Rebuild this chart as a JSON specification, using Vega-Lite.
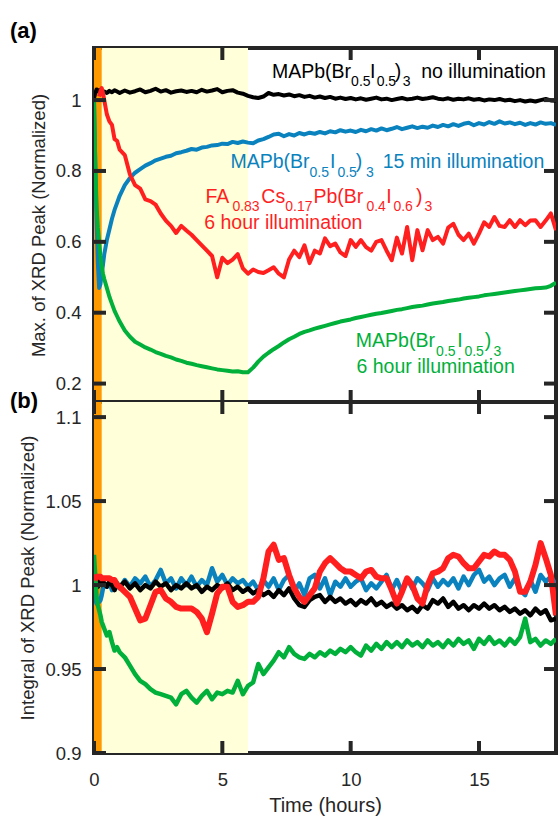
{
  "$schema": "https://vega.github.io/schema/vega-lite/v6.json",
  "autosize": {"type": "none"},
  "padding": {"left": 94, "top": 48, "right": 464, "bottom": 770},
  "bounds": "flush",
  "spacing": 0,
  "background": "white",
  "config": {
    "view": {"stroke": "#262626", "strokeWidth": 4},
    "font": "Liberation Sans",
    "tick": {"opacity": 1},
    "axis": {
      "domain": false,
      "ticks": true, "tickSize": 0, "tickOpacity": 0, "offset": 0,
      "grid": false,
      "labelFont": "Liberation Sans", "labelFontSize": 18.5, "labelColor": "#262626",
      "titleFont": "Liberation Sans", "titleFontSize": 18.5, "titleFontWeight": "normal", "titleColor": "#262626",
      "labelFlush": false
    }
  },
  "datasets": {
    "xticks": [{"t": 0}, {"t": 5}, {"t": 10}, {"t": 15}],
    "yticksA": [{"v": 0.2}, {"v": 0.4}, {"v": 0.6}, {"v": 0.8}, {"v": 1}],
    "yticksB": [{"v": 0.9}, {"v": 0.95}, {"v": 1}, {"v": 1.05}, {"v": 1.1}],
    "series": [
      {"t":0,"ak":1.005,"ab":1.0,"ar":null,"ag":1.0,"bk":0.998,"bb":1.0,"br":1.003,"bg":1.018},
      {"t":0.05,"ak":1.02,"ab":0.82,"ar":null,"ag":0.82,"bk":1.0,"bb":0.992,"br":1.004,"bg":1.005},
      {"t":0.1,"ak":1.03,"ab":0.66,"ar":null,"ag":0.70,"bk":1.002,"bb":0.989,"br":1.005,"bg":0.993},
      {"t":0.15,"ak":1.025,"ab":0.54,"ar":null,"ag":0.64,"bk":0.999,"bb":0.99,"br":1.005,"bg":0.988},
      {"t":0.2,"ak":1.028,"ab":0.47,"ar":1.01,"ag":0.60,"bk":1.001,"bb":0.99,"br":1.005,"bg":0.985},
      {"t":0.25,"ak":1.02,"ab":0.48,"ar":1.025,"ag":0.56,"bk":1.003,"bb":0.991,"br":1.005,"bg":0.982},
      {"t":0.3,"ak":1.022,"ab":0.51,"ar":1.034,"ag":0.53,"bk":1.0,"bb":0.994,"br":1.004,"bg":0.978},
      {"t":0.35,"ak":1.018,"ab":0.535,"ar":1.02,"ag":0.51,"bk":1.002,"bb":0.998,"br":1.004,"bg":0.976},
      {"t":0.4,"ak":1.024,"ab":0.565,"ar":1.0,"ag":0.495,"bk":1.001,"bb":1.001,"br":1.004,"bg":0.974},
      {"t":0.5,"ak":1.02,"ab":0.605,"ar":0.96,"ag":0.47,"bk":0.999,"bb":0.999,"br":1.004,"bg":0.970},
      {"t":0.6,"ak":1.026,"ab":0.635,"ar":0.94,"ag":0.445,"bk":1.002,"bb":1.002,"br":1.004,"bg":0.972},
      {"t":0.7,"ak":1.022,"ab":0.665,"ar":0.93,"ag":0.425,"bk":1.0,"bb":0.997,"br":1.003,"bg":0.966},
      {"t":0.8,"ak":1.028,"ab":0.69,"ar":0.89,"ag":0.405,"bk":0.997,"bb":1.003,"br":1.003,"bg":0.961},
      {"t":0.9,"ak":1.024,"ab":0.71,"ar":0.885,"ag":0.39,"bk":1.001,"bb":1.0,"br":1.0,"bg":0.963},
      {"t":1.0,"ak":1.02,"ab":0.73,"ar":0.86,"ag":0.375,"bk":0.999,"bb":0.998,"br":0.999,"bg":0.96},
      {"t":1.2,"ak":1.027,"ab":0.76,"ar":0.845,"ag":0.35,"bk":1.002,"bb":1.003,"br":0.996,"bg":0.957},
      {"t":1.4,"ak":1.021,"ab":0.78,"ar":0.79,"ag":0.332,"bk":0.998,"bb":0.999,"br":0.993,"bg":0.952},
      {"t":1.6,"ak":1.025,"ab":0.795,"ar":0.76,"ag":0.318,"bk":1.001,"bb":1.004,"br":0.986,"bg":0.947},
      {"t":1.8,"ak":1.03,"ab":0.805,"ar":0.75,"ag":0.31,"bk":0.997,"bb":1.001,"br":0.979,"bg":0.943},
      {"t":2.0,"ak":1.022,"ab":0.815,"ar":0.72,"ag":0.302,"bk":1.0,"bb":1.005,"br":0.98,"bg":0.941},
      {"t":2.2,"ak":1.026,"ab":0.822,"ar":0.715,"ag":0.296,"bk":0.998,"bb":0.999,"br":0.988,"bg":0.938},
      {"t":2.4,"ak":1.032,"ab":0.83,"ar":0.705,"ag":0.289,"bk":1.002,"bb":1.003,"br":0.996,"bg":0.936},
      {"t":2.6,"ak":1.024,"ab":0.835,"ar":0.68,"ag":0.284,"bk":0.999,"bb":1.009,"br":0.997,"bg":0.935},
      {"t":2.8,"ak":1.028,"ab":0.84,"ar":0.66,"ag":0.278,"bk":1.001,"bb":1.001,"br":0.992,"bg":0.934},
      {"t":3.0,"ak":1.021,"ab":0.843,"ar":0.645,"ag":0.274,"bk":0.997,"bb":1.004,"br":0.99,"bg":0.933},
      {"t":3.2,"ak":1.025,"ab":0.85,"ar":0.625,"ag":0.268,"bk":1.0,"bb":0.998,"br":0.987,"bg":0.929},
      {"t":3.4,"ak":1.027,"ab":0.853,"ar":0.645,"ag":0.264,"bk":0.998,"bb":1.004,"br":0.986,"bg":0.935},
      {"t":3.6,"ak":1.023,"ab":0.857,"ar":0.632,"ag":0.259,"bk":1.001,"bb":1.0,"br":0.986,"bg":0.937},
      {"t":3.8,"ak":1.026,"ab":0.862,"ar":0.62,"ag":0.256,"bk":0.998,"bb":1.005,"br":0.986,"bg":0.933},
      {"t":4.0,"ak":1.022,"ab":0.86,"ar":0.605,"ag":0.252,"bk":1.0,"bb":0.999,"br":0.984,"bg":0.93},
      {"t":4.2,"ak":1.029,"ab":0.866,"ar":0.59,"ag":0.249,"bk":0.996,"bb":1.003,"br":0.98,"bg":0.934},
      {"t":4.4,"ak":1.024,"ab":0.868,"ar":0.575,"ag":0.246,"bk":0.999,"bb":1.0,"br":0.972,"bg":0.937},
      {"t":4.6,"ak":1.027,"ab":0.872,"ar":0.56,"ag":0.243,"bk":0.997,"bb":1.01,"br":0.983,"bg":0.932},
      {"t":4.8,"ak":1.031,"ab":0.873,"ar":0.50,"ag":0.24,"bk":1.0,"bb":1.002,"br":0.995,"bg":0.936},
      {"t":5.0,"ak":1.022,"ab":0.877,"ar":0.555,"ag":0.238,"bk":0.998,"bb":1.006,"br":0.999,"bg":0.935},
      {"t":5.2,"ak":1.026,"ab":0.876,"ar":0.54,"ag":0.236,"bk":1.001,"bb":1.0,"br":0.999,"bg":0.937},
      {"t":5.4,"ak":1.028,"ab":0.882,"ar":0.55,"ag":0.234,"bk":0.997,"bb":1.004,"br":0.99,"bg":0.936},
      {"t":5.6,"ak":1.021,"ab":0.879,"ar":0.565,"ag":0.235,"bk":0.999,"bb":1.001,"br":0.987,"bg":0.943},
      {"t":5.8,"ak":1.018,"ab":0.883,"ar":0.525,"ag":0.232,"bk":0.996,"bb":1.003,"br":0.988,"bg":0.935},
      {"t":6.0,"ak":1.012,"ab":0.88,"ar":0.51,"ag":0.232,"bk":0.998,"bb":0.999,"br":0.99,"bg":0.94},
      {"t":6.2,"ak":1.008,"ab":0.878,"ar":0.522,"ag":0.245,"bk":0.995,"bb":1.002,"br":0.99,"bg":0.942},
      {"t":6.4,"ak":1.006,"ab":0.886,"ar":0.515,"ag":0.262,"bk":0.997,"bb":0.997,"br":0.993,"bg":0.953},
      {"t":6.6,"ak":1.01,"ab":0.89,"ar":0.512,"ag":0.276,"bk":0.994,"bb":1.003,"br":1.004,"bg":0.947},
      {"t":6.8,"ak":1.02,"ab":0.896,"ar":0.52,"ag":0.287,"bk":0.996,"bb":0.999,"br":1.02,"bg":0.951},
      {"t":7.0,"ak":1.015,"ab":0.903,"ar":0.528,"ag":0.297,"bk":0.993,"bb":1.004,"br":1.024,"bg":0.955},
      {"t":7.2,"ak":1.017,"ab":0.905,"ar":0.51,"ag":0.306,"bk":0.997,"bb":0.997,"br":1.015,"bg":0.96},
      {"t":7.4,"ak":1.013,"ab":0.898,"ar":0.50,"ag":0.316,"bk":0.994,"bb":1.003,"br":1.016,"bg":0.957},
      {"t":7.6,"ak":1.016,"ab":0.904,"ar":0.55,"ag":0.325,"bk":0.998,"bb":1.006,"br":1.006,"bg":0.963},
      {"t":7.8,"ak":1.011,"ab":0.9,"ar":0.575,"ag":0.332,"bk":0.992,"bb":0.996,"br":0.998,"bg":0.959},
      {"t":8.0,"ak":1.014,"ab":0.907,"ar":0.557,"ag":0.34,"bk":0.988,"bb":1.001,"br":0.993,"bg":0.957},
      {"t":8.2,"ak":1.009,"ab":0.903,"ar":0.59,"ag":0.346,"bk":0.987,"bb":0.994,"br":0.99,"bg":0.956},
      {"t":8.4,"ak":1.012,"ab":0.908,"ar":0.54,"ag":0.35,"bk":0.991,"bb":1.004,"br":0.994,"bg":0.959},
      {"t":8.6,"ak":1.007,"ab":0.905,"ar":0.575,"ag":0.355,"bk":0.993,"bb":1.006,"br":0.998,"bg":0.957},
      {"t":8.8,"ak":1.01,"ab":0.91,"ar":0.567,"ag":0.359,"bk":0.994,"bb":0.998,"br":1.008,"bg":0.96},
      {"t":9.0,"ak":1.006,"ab":0.906,"ar":0.61,"ag":0.363,"bk":0.99,"bb":1.004,"br":1.013,"bg":0.958},
      {"t":9.2,"ak":1.009,"ab":0.912,"ar":0.588,"ag":0.367,"bk":0.993,"bb":0.994,"br":1.016,"bg":0.961},
      {"t":9.4,"ak":1.004,"ab":0.909,"ar":0.595,"ag":0.371,"bk":0.99,"bb":1.002,"br":1.013,"bg":0.959},
      {"t":9.6,"ak":1.007,"ab":0.915,"ar":0.57,"ag":0.375,"bk":0.992,"bb":0.999,"br":1.01,"bg":0.962},
      {"t":9.8,"ak":1.003,"ab":0.911,"ar":0.56,"ag":0.378,"bk":0.989,"bb":1.004,"br":1.008,"bg":0.96},
      {"t":10.0,"ak":1.006,"ab":0.914,"ar":0.605,"ag":0.381,"bk":0.991,"bb":0.999,"br":1.008,"bg":0.963},
      {"t":10.2,"ak":1.002,"ab":0.91,"ar":0.586,"ag":0.385,"bk":0.988,"bb":1.002,"br":1.006,"bg":0.96},
      {"t":10.4,"ak":1.005,"ab":0.916,"ar":0.605,"ag":0.388,"bk":0.991,"bb":1.004,"br":1.004,"bg":0.958},
      {"t":10.6,"ak":1.001,"ab":0.912,"ar":0.585,"ag":0.391,"bk":0.989,"bb":0.997,"br":1.008,"bg":0.964},
      {"t":10.8,"ak":1.004,"ab":0.918,"ar":0.575,"ag":0.394,"bk":0.992,"bb":1.001,"br":1.009,"bg":0.961},
      {"t":11.0,"ak":1.007,"ab":0.914,"ar":0.6,"ag":0.397,"bk":0.988,"bb":0.998,"br":1.005,"bg":0.965},
      {"t":11.2,"ak":1.002,"ab":0.92,"ar":0.605,"ag":0.399,"bk":0.99,"bb":1.002,"br":1.004,"bg":0.962},
      {"t":11.4,"ak":1.004,"ab":0.915,"ar":0.575,"ag":0.402,"bk":0.987,"bb":1.006,"br":1.004,"bg":0.966},
      {"t":11.6,"ak":1.0,"ab":0.919,"ar":0.548,"ag":0.405,"bk":0.989,"bb":0.997,"br":0.997,"bg":0.963},
      {"t":11.8,"ak":1.003,"ab":0.924,"ar":0.612,"ag":0.408,"bk":0.986,"bb":1.003,"br":0.989,"bg":0.966},
      {"t":12.0,"ak":1.006,"ab":0.918,"ar":0.567,"ag":0.41,"bk":0.988,"bb":0.996,"br":0.996,"bg":0.963},
      {"t":12.2,"ak":1.002,"ab":0.922,"ar":0.642,"ag":0.413,"bk":0.985,"bb":1.004,"br":1.004,"bg":0.967},
      {"t":12.4,"ak":1.004,"ab":0.926,"ar":0.548,"ag":0.416,"bk":0.987,"bb":0.998,"br":1.0,"bg":0.964},
      {"t":12.6,"ak":1.007,"ab":0.921,"ar":0.633,"ag":0.418,"bk":0.984,"bb":1.004,"br":0.992,"bg":0.966},
      {"t":12.8,"ak":1.003,"ab":0.925,"ar":0.576,"ag":0.42,"bk":0.988,"bb":1.001,"br":0.989,"bg":0.963},
      {"t":13.0,"ak":1.005,"ab":0.922,"ar":0.633,"ag":0.423,"bk":0.986,"bb":0.997,"br":1.0,"bg":0.967},
      {"t":13.2,"ak":1.008,"ab":0.928,"ar":0.605,"ag":0.426,"bk":0.991,"bb":1.004,"br":1.007,"bg":0.964},
      {"t":13.4,"ak":1.004,"ab":0.924,"ar":0.614,"ag":0.428,"bk":0.989,"bb":0.999,"br":1.008,"bg":0.966},
      {"t":13.6,"ak":1.002,"ab":0.93,"ar":0.595,"ag":0.43,"bk":0.992,"bb":1.003,"br":1.01,"bg":0.963},
      {"t":13.8,"ak":1.005,"ab":0.926,"ar":0.64,"ag":0.433,"bk":0.987,"bb":1.0,"br":1.016,"bg":0.967},
      {"t":14.0,"ak":1.001,"ab":0.932,"ar":0.651,"ag":0.435,"bk":0.99,"bb":1.004,"br":1.018,"bg":0.964},
      {"t":14.2,"ak":1.004,"ab":0.927,"ar":0.62,"ag":0.437,"bk":0.986,"bb":0.998,"br":1.017,"bg":0.968},
      {"t":14.4,"ak":1.002,"ab":0.933,"ar":0.605,"ag":0.44,"bk":0.988,"bb":1.005,"br":1.013,"bg":0.965},
      {"t":14.6,"ak":1.005,"ab":0.936,"ar":0.623,"ag":0.442,"bk":0.985,"bb":1.0,"br":1.01,"bg":0.967},
      {"t":14.8,"ak":1.001,"ab":0.929,"ar":0.595,"ag":0.444,"bk":0.988,"bb":1.006,"br":1.01,"bg":0.962},
      {"t":15.0,"ak":1.003,"ab":0.935,"ar":0.623,"ag":0.446,"bk":0.986,"bb":1.009,"br":1.014,"bg":0.968},
      {"t":15.2,"ak":0.999,"ab":0.931,"ar":0.655,"ag":0.449,"bk":0.989,"bb":1.002,"br":1.018,"bg":0.965},
      {"t":15.4,"ak":1.002,"ab":0.938,"ar":0.642,"ag":0.451,"bk":0.986,"bb":1.005,"br":1.017,"bg":0.969},
      {"t":15.6,"ak":1.0,"ab":0.933,"ar":0.67,"ag":0.453,"bk":0.988,"bb":1.0,"br":1.02,"bg":0.965},
      {"t":15.8,"ak":1.003,"ab":0.94,"ar":0.645,"ag":0.455,"bk":0.985,"bb":1.004,"br":1.018,"bg":0.967},
      {"t":16.0,"ak":0.999,"ab":0.934,"ar":0.642,"ag":0.457,"bk":0.987,"bb":1.006,"br":1.018,"bg":0.964},
      {"t":16.2,"ak":1.001,"ab":0.937,"ar":0.661,"ag":0.459,"bk":0.984,"bb":0.999,"br":1.015,"bg":0.968},
      {"t":16.4,"ak":0.997,"ab":0.932,"ar":0.642,"ag":0.461,"bk":0.986,"bb":1.004,"br":1.008,"bg":0.965},
      {"t":16.6,"ak":1.0,"ab":0.936,"ar":0.661,"ag":0.463,"bk":0.983,"bb":0.997,"br":0.996,"bg":0.969},
      {"t":16.8,"ak":0.996,"ab":0.93,"ar":0.647,"ag":0.465,"bk":0.985,"bb":0.994,"br":0.996,"bg":0.98},
      {"t":17.0,"ak":0.999,"ab":0.935,"ar":0.66,"ag":0.467,"bk":0.982,"bb":1.003,"br":1.002,"bg":0.966},
      {"t":17.2,"ak":0.996,"ab":0.931,"ar":0.661,"ag":0.469,"bk":0.986,"bb":0.996,"br":1.012,"bg":0.968},
      {"t":17.4,"ak":1.0,"ab":0.937,"ar":0.642,"ag":0.47,"bk":0.983,"bb":1.006,"br":1.025,"bg":0.964},
      {"t":17.6,"ak":1.003,"ab":0.933,"ar":0.66,"ag":0.471,"bk":0.985,"bb":1.002,"br":1.016,"bg":0.967},
      {"t":17.8,"ak":0.999,"ab":0.935,"ar":0.68,"ag":0.476,"bk":0.979,"bb":1.005,"br":1.006,"bg":0.965},
      {"t":18.0,"ak":0.998,"ab":0.93,"ar":0.633,"ag":0.485,"bk":0.98,"bb":1.0,"br":0.982,"bg":0.968}
    ],
    "labels": [
      {"curve":"MAPb(Br0.5I0.5)3, no illumination","part":"main","t":6.935,"v":1.063,"text":"MAPb(Br"},
      {"curve":"MAPb(Br0.5I0.5)3, no illumination","part":"sub","t":10.017,"v":1.063,"text":"0.5"},
      {"curve":"MAPb(Br0.5I0.5)3, no illumination","part":"main","t":10.749,"v":1.063,"text":"I"},
      {"curve":"MAPb(Br0.5I0.5)3, no illumination","part":"sub","t":11.014,"v":1.063,"text":"0.5"},
      {"curve":"MAPb(Br0.5I0.5)3, no illumination","part":"main","t":11.72,"v":1.063,"text":")"},
      {"curve":"MAPb(Br0.5I0.5)3, no illumination","part":"sub","t":12.027,"v":1.063,"text":"3"},
      {"curve":"MAPb(Br0.5I0.5)3, no illumination","part":"main","t":12.75,"v":1.063,"text":"no illumination"},
      {"curve":"MAPb(Br0.5I0.5)3, 15 min illumination","part":"main","t":5.314,"v":0.807,"text":"MAPb(Br"},
      {"curve":"MAPb(Br0.5I0.5)3, 15 min illumination","part":"sub","t":8.396,"v":0.807,"text":"0.5"},
      {"curve":"MAPb(Br0.5I0.5)3, 15 min illumination","part":"main","t":9.191,"v":0.807,"text":"I"},
      {"curve":"MAPb(Br0.5I0.5)3, 15 min illumination","part":"sub","t":9.483,"v":0.807,"text":"0.5"},
      {"curve":"MAPb(Br0.5I0.5)3, 15 min illumination","part":"main","t":10.2,"v":0.807,"text":")"},
      {"curve":"MAPb(Br0.5I0.5)3, 15 min illumination","part":"sub","t":10.601,"v":0.807,"text":"3"},
      {"curve":"MAPb(Br0.5I0.5)3, 15 min illumination","part":"main","t":11.25,"v":0.807,"text":"15 min illumination"},
      {"curve":"FA0.83Cs0.17Pb(Br0.4I0.6)3, 6 hour illumination","part":"main","t":4.344,"v":0.7099,"text":"FA"},
      {"curve":"FA0.83Cs0.17Pb(Br0.4I0.6)3, 6 hour illumination","part":"sub","t":5.392,"v":0.7099,"text":"0.83"},
      {"curve":"FA0.83Cs0.17Pb(Br0.4I0.6)3, 6 hour illumination","part":"main","t":6.52,"v":0.7099,"text":"Cs"},
      {"curve":"FA0.83Cs0.17Pb(Br0.4I0.6)3, 6 hour illumination","part":"sub","t":7.45,"v":0.7099,"text":"0.17"},
      {"curve":"FA0.83Cs0.17Pb(Br0.4I0.6)3, 6 hour illumination","part":"main","t":8.552,"v":0.7099,"text":"Pb(Br"},
      {"curve":"FA0.83Cs0.17Pb(Br0.4I0.6)3, 6 hour illumination","part":"sub","t":10.613,"v":0.7099,"text":"0.4"},
      {"curve":"FA0.83Cs0.17Pb(Br0.4I0.6)3, 6 hour illumination","part":"main","t":11.384,"v":0.7099,"text":"I"},
      {"curve":"FA0.83Cs0.17Pb(Br0.4I0.6)3, 6 hour illumination","part":"sub","t":11.665,"v":0.7099,"text":"0.6"},
      {"curve":"FA0.83Cs0.17Pb(Br0.4I0.6)3, 6 hour illumination","part":"main","t":12.545,"v":0.7099,"text":")"},
      {"curve":"FA0.83Cs0.17Pb(Br0.4I0.6)3, 6 hour illumination","part":"sub","t":12.873,"v":0.7099,"text":"3"},
      {"curve":"FA0.83Cs0.17Pb(Br0.4I0.6)3, 6 hour illumination","part":"main","t":4.293,"v":0.6376,"text":"6 hour illumination"},
      {"curve":"MAPb(Br0.5I0.5)3, 6 hour illumination","part":"main","t":10.2,"v":0.3031,"text":"MAPb(Br"},
      {"curve":"MAPb(Br0.5I0.5)3, 6 hour illumination","part":"sub","t":13.329,"v":0.3031,"text":"0.5"},
      {"curve":"MAPb(Br0.5I0.5)3, 6 hour illumination","part":"main","t":14.151,"v":0.3031,"text":"I"},
      {"curve":"MAPb(Br0.5I0.5)3, 6 hour illumination","part":"sub","t":14.431,"v":0.3031,"text":"0.5"},
      {"curve":"MAPb(Br0.5I0.5)3, 6 hour illumination","part":"main","t":15.226,"v":0.3031,"text":")"},
      {"curve":"MAPb(Br0.5I0.5)3, 6 hour illumination","part":"sub","t":15.561,"v":0.3031,"text":"3"},
      {"curve":"MAPb(Br0.5I0.5)3, 6 hour illumination","part":"main","t":10.227,"v":0.2297,"text":"6 hour illumination"}
    ]
  },
  "vconcat": [
    {
      "width": 462,
      "height": 354,
      "title": {"text": "(a)", "anchor": "start", "frame": "group", "dx": -84, "offset": -12, "baseline": "alphabetic", "fontSize": 22, "fontWeight": "bold", "font": "Liberation Sans", "color": "#000000"},
      "layer": [
        {
          "data": {"values": [{"start": 0.3, "end": 6}]},
          "mark": {"type": "rect", "color": "#FFFFD9"},
          "encoding": {"x": {"field": "start", "type": "quantitative", "axis": null}, "x2": {"field": "end"}}
        },
        {
          "data": {"values": [{"start": 0, "end": 0.3}]},
          "mark": {"type": "rect", "color": "#FF9900"},
          "encoding": {"x": {"field": "start", "type": "quantitative", "axis": null}, "x2": {"field": "end"}}
        },
        {
          "data": {"name": "series"},
          "mark": {"type": "line", "color": "#000000", "strokeWidth": 4, "strokeJoin": "round", "clip": true},
          "encoding": {
            "x": {"field": "t", "type": "quantitative", "scale": {"domain": [0, 18], "nice": false, "zero": false},
                  "axis": {"orient": "bottom", "values": [0, 5, 10, 15], "labels": false, "title": null}},
            "y": {"field": "ak", "type": "quantitative", "scale": {"domain": [0.148, 1.147], "nice": false, "zero": false},
                  "axis": {"orient": "left", "values": [0.2, 0.4, 0.6, 0.8, 1], "format": "~g", "labelPadding": 13, "title": "Max. of XRD Peak (Normalized)", "titlePadding": 7}}
          }
        },
        {
          "data": {"name": "series"},
          "mark": {"type": "line", "color": "#0A82BE", "strokeWidth": 4, "strokeJoin": "round", "clip": true},
          "encoding": {
            "x": {"field": "t", "type": "quantitative", "axis": {"orient": "top", "values": [0, 5, 10, 15], "labels": false, "title": null}},
            "y": {"field": "ab", "type": "quantitative", "axis": {"orient": "right", "values": [0.2, 0.4, 0.6, 0.8, 1], "labels": false, "title": null}}
          }
        },
        {
          "data": {"name": "series"},
          "mark": {"type": "line", "color": "#00B03A", "strokeWidth": 4, "strokeJoin": "round", "clip": true},
          "encoding": {
            "x": {"field": "t", "type": "quantitative", "axis": null},
            "y": {"field": "ag", "type": "quantitative", "axis": null}
          }
        },
        {
          "data": {"name": "series"},
          "mark": {"type": "line", "color": "#FF1F1F", "strokeWidth": 4, "strokeJoin": "round", "clip": true},
          "encoding": {
            "x": {"field": "t", "type": "quantitative", "axis": null},
            "y": {"field": "ar", "type": "quantitative", "axis": null}
          }
        },
        {
          "data": {"name": "labels"},
          "transform": [{"filter": "datum.part === 'main'"}],
          "mark": {"type": "text", "align": "left", "baseline": "alphabetic", "fontSize": 19.5, "font": "Liberation Sans"},
          "encoding": {
            "x": {"field": "t", "type": "quantitative", "axis": null},
            "y": {"field": "v", "type": "quantitative", "axis": null},
            "text": {"field": "text"},
            "color": {"field": "curve", "type": "nominal", "legend": null,
                      "scale": {"domain": ["MAPb(Br0.5I0.5)3, no illumination", "MAPb(Br0.5I0.5)3, 15 min illumination", "FA0.83Cs0.17Pb(Br0.4I0.6)3, 6 hour illumination", "MAPb(Br0.5I0.5)3, 6 hour illumination"],
                                "range": ["#000000", "#0A82BE", "#FF1F1F", "#00B03A"]}}
          }
        },
        {
          "data": {"name": "labels"},
          "transform": [{"filter": "datum.part === 'sub'"}],
          "mark": {"type": "text", "align": "left", "baseline": "alphabetic", "fontSize": 14, "dy": 8.5, "font": "Liberation Sans"},
          "encoding": {
            "x": {"field": "t", "type": "quantitative", "axis": null},
            "y": {"field": "v", "type": "quantitative", "axis": null},
            "text": {"field": "text"},
            "color": {"field": "curve", "type": "nominal", "legend": null}
          }
        },
        {
          "data": {"name": "xticks"},
          "mark": {"type": "tick", "orient": "vertical", "size": 12, "thickness": 4, "yOffset": -6, "color": "#262626", "opacity": 1},
          "encoding": {"x": {"field": "t", "type": "quantitative", "axis": null}, "y": {"value": "height"}}
        },
        {
          "data": {"name": "xticks"},
          "mark": {"type": "tick", "orient": "vertical", "size": 12, "thickness": 4, "yOffset": 6, "color": "#262626", "opacity": 1},
          "encoding": {"x": {"field": "t", "type": "quantitative", "axis": null}, "y": {"value": 0}}
        },
        {
          "data": {"name": "yticksA"},
          "mark": {"type": "tick", "orient": "horizontal", "size": 12, "thickness": 4, "xOffset": 6, "color": "#262626", "opacity": 1},
          "encoding": {"y": {"field": "v", "type": "quantitative", "axis": null}, "x": {"value": 0}}
        },
        {
          "data": {"name": "yticksA"},
          "mark": {"type": "tick", "orient": "horizontal", "size": 12, "thickness": 4, "xOffset": -6, "color": "#262626", "opacity": 1},
          "encoding": {"y": {"field": "v", "type": "quantitative", "axis": null}, "x": {"value": "width"}}
        }
      ]
    },
    {
      "width": 462,
      "height": 351,
      "title": {"text": "(b)", "anchor": "start", "frame": "group", "dx": -84, "offset": -28, "baseline": "alphabetic", "fontSize": 22, "fontWeight": "bold", "font": "Liberation Sans", "color": "#000000"},
      "layer": [
        {
          "data": {"values": [{"start": 0.3, "end": 6}]},
          "mark": {"type": "rect", "color": "#FFFFD9"},
          "encoding": {"x": {"field": "start", "type": "quantitative", "axis": null}, "x2": {"field": "end"}}
        },
        {
          "data": {"values": [{"start": 0, "end": 0.3}]},
          "mark": {"type": "rect", "color": "#FF9900"},
          "encoding": {"x": {"field": "start", "type": "quantitative", "axis": null}, "x2": {"field": "end"}}
        },
        {
          "data": {"name": "series"},
          "mark": {"type": "line", "color": "#0A82BE", "strokeWidth": 4.5, "strokeJoin": "round", "clip": true},
          "encoding": {
            "x": {"field": "t", "type": "quantitative", "scale": {"domain": [0, 18], "nice": false, "zero": false},
                  "axis": {"orient": "bottom", "values": [0, 5, 10, 15], "format": "~g", "labelBaseline": "alphabetic", "labelPadding": 32, "title": "Time (hours)", "titleFontSize": 20, "titlePadding": 7}},
            "y": {"field": "bb", "type": "quantitative", "scale": {"domain": [0.9, 1.109], "nice": false, "zero": false},
                  "axis": {"orient": "left", "values": [0.9, 0.95, 1, 1.05, 1.1], "format": "~g", "labelPadding": 13, "title": "Integral of XRD Peak (Normalized)", "titlePadding": 7}}
          }
        },
        {
          "data": {"name": "series"},
          "mark": {"type": "line", "color": "#000000", "strokeWidth": 4.5, "strokeJoin": "round", "clip": true},
          "encoding": {
            "x": {"field": "t", "type": "quantitative", "axis": {"orient": "top", "values": [0, 5, 10, 15], "labels": false, "title": null}},
            "y": {"field": "bk", "type": "quantitative", "axis": {"orient": "right", "values": [0.9, 0.95, 1, 1.05, 1.1], "labels": false, "title": null}}
          }
        },
        {
          "data": {"name": "series"},
          "mark": {"type": "line", "color": "#00B03A", "strokeWidth": 4.5, "strokeJoin": "round", "clip": true},
          "encoding": {
            "x": {"field": "t", "type": "quantitative", "axis": null},
            "y": {"field": "bg", "type": "quantitative", "axis": null}
          }
        },
        {
          "data": {"name": "series"},
          "mark": {"type": "line", "color": "#FF1F1F", "strokeWidth": 6, "strokeJoin": "round", "clip": true},
          "encoding": {
            "x": {"field": "t", "type": "quantitative", "axis": null},
            "y": {"field": "br", "type": "quantitative", "axis": null}
          }
        },
        {
          "data": {"name": "xticks"},
          "mark": {"type": "tick", "orient": "vertical", "size": 12, "thickness": 4, "yOffset": -6, "color": "#262626", "opacity": 1},
          "encoding": {"x": {"field": "t", "type": "quantitative", "axis": null}, "y": {"value": "height"}}
        },
        {
          "data": {"name": "xticks"},
          "mark": {"type": "tick", "orient": "vertical", "size": 12, "thickness": 4, "yOffset": 6, "color": "#262626", "opacity": 1},
          "encoding": {"x": {"field": "t", "type": "quantitative", "axis": null}, "y": {"value": 0}}
        },
        {
          "data": {"name": "yticksB"},
          "mark": {"type": "tick", "orient": "horizontal", "size": 12, "thickness": 4, "xOffset": 6, "color": "#262626", "opacity": 1},
          "encoding": {"y": {"field": "v", "type": "quantitative", "axis": null}, "x": {"value": 0}}
        },
        {
          "data": {"name": "yticksB"},
          "mark": {"type": "tick", "orient": "horizontal", "size": 12, "thickness": 4, "xOffset": -6, "color": "#262626", "opacity": 1},
          "encoding": {"y": {"field": "v", "type": "quantitative", "axis": null}, "x": {"value": "width"}}
        }
      ]
    }
  ]
}
